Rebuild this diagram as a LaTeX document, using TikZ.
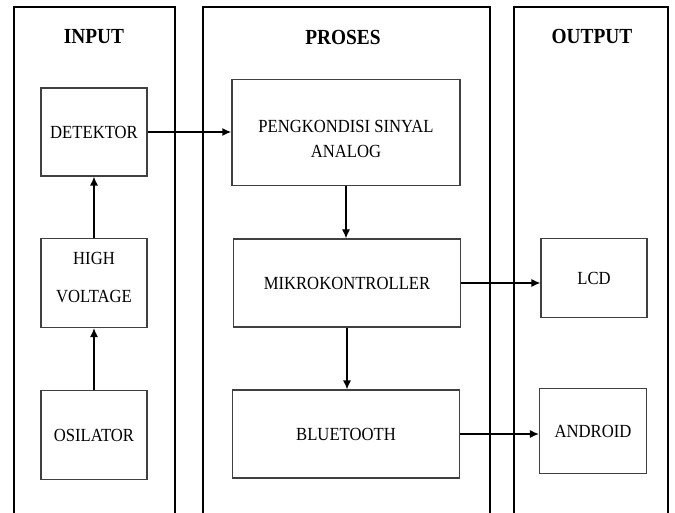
\documentclass[tikz,border=0pt]{standalone}
\usepackage{fontspec}
\setmainfont[FakeStretch=0.9]{Liberation Serif}
\usetikzlibrary{arrows.meta}
\begin{document}
\begin{tikzpicture}[x=1pt,y=-1pt,
  outer/.style={line width=2pt},
  blk/.style={draw=black!75, line width=1.2pt, rectangle, inner sep=0pt,
    font=\fontsize{18.5}{25}\selectfont, align=center},
  lbl/.style={font=\fontsize{18.5}{25}\selectfont, align=center},
  arr/.style={-{Latex[length=9pt,width=8pt]}, line width=1.2pt},
  ttl/.style={font=\fontsize{21.5}{25}\selectfont\bfseries}]
\useasboundingbox (0,0) rectangle (675,513);
% outer columns
\draw[outer] (14,520) -- (14,7) -- (175,7) -- (175,520);
\draw[outer] (203,520) -- (203,7) -- (490,7) -- (490,520);
\draw[outer] (514,520) -- (514,7) -- (668,7) -- (668,520);
% titles
\node[ttl] (tin) at (94,37) {INPUT};
\node[ttl] (tpr) at (343,37) {PROSES};
\node[ttl] (tout) at (592,36) {OUTPUT};
% blocks
\node[blk, minimum width=106pt, minimum height=88pt] (det) at (94,132) {DETEKTOR};
\node[blk, minimum width=106pt, minimum height=89pt,
  label={[lbl, yshift=5pt]center:HIGH\\[13pt]VOLTAGE}] (hv) at (94,283) {};
\node[blk, minimum width=106pt, minimum height=89pt] (osc) at (94,435) {OSILATOR};
\node[blk, minimum width=228pt, minimum height=106pt,
  label={[lbl, yshift=-6pt]center:PENGKONDISI SINYAL\\ANALOG}] (peng) at (346,132.5) {};
\node[blk, minimum width=227pt, minimum height=88pt] (mik) at (347,283) {MIKROKONTROLLER};
\node[blk, minimum width=227pt, minimum height=88pt] (bt) at (346,434) {BLUETOOTH};
\node[blk, minimum width=106pt, minimum height=79pt] (lcd) at (594,278) {LCD};
\node[blk, minimum width=107pt, minimum height=85pt] (and) at (593,431) {ANDROID};
% connectors
\draw[arr] (osc.north) -- (hv.south);
\draw[arr] (hv.north) -- (det.south);
\draw[arr, line width=1.8pt] (det.east) -- (det.east -| peng.west);
\draw[arr] (peng.south) -- (peng.south |- mik.north);
\draw[arr] (mik.south) -- (mik.south |- bt.north);
\draw[arr] (mik.east) -- (mik.east -| lcd.west);
\draw[arr] (bt.east) -- (bt.east -| and.west);
\end{tikzpicture}
\end{document}
